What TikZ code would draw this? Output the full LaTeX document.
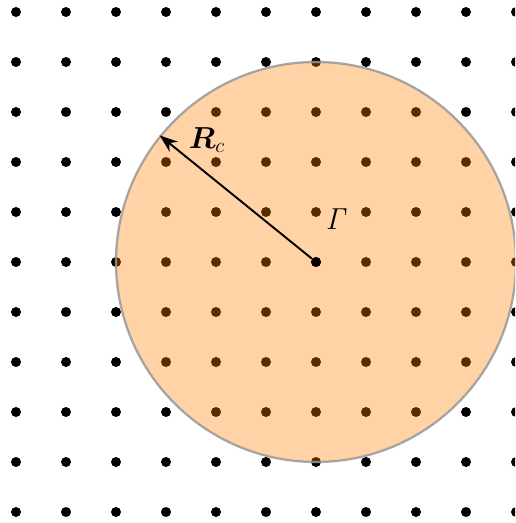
\documentclass[tikz,border=0pt]{standalone}
\usepackage{amsmath,bm}
\usetikzlibrary{arrows.meta}
\begin{document}
\begin{tikzpicture}[
  latdot/.style={circle,fill=black,inner sep=0pt,minimum size=0.2cm},
  zone/.style={circle,minimum size=8cm,inner sep=0pt,fill=orange,fill opacity=0.35,draw=black!40,draw opacity=0.85,line width=1.3pt},
  lbl/.style={font=\fontsize{16.6}{20}\selectfont,inner sep=0pt}
]
\useasboundingbox (-6.32,-5.22) rectangle (3.98,5.24);
\clip (-6.32,-5.22) rectangle (3.98,5.24);
\foreach \i in {-6,...,4}{
  \foreach \j in {-5,...,5}{
    \node[latdot] (d\i\j) at (\i,\j) {};
  }
}
\node[zone] (C) at (0,0) {};
\node[latdot] (G) at (0,0) {};
\draw[line width=1.1pt,-{Stealth[length=0.36cm,width=0.26cm]}] (G) -- (C.141.5);
\node[lbl] (Rc) at (-2.18,2.44) {$\bm{R}_c$};
\node[lbl] (Gl) at (0.42,0.86) {$\mathit{\Gamma}$};
\end{tikzpicture}
\end{document}
